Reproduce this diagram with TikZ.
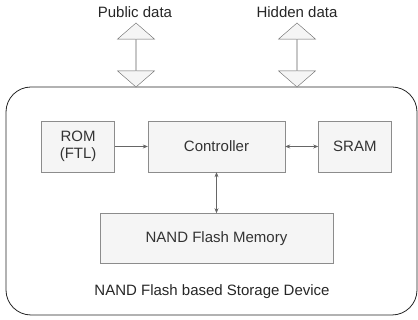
\documentclass[tikz,border=0pt]{standalone}
\usepackage{fontspec}
\setmainfont{Liberation Sans}
\usetikzlibrary{positioning}
\usetikzlibrary{arrows.meta, shapes.arrows}

\definecolor{boxfill}{HTML}{F5F5F5}
\definecolor{boxline}{HTML}{8C8C8C}
\definecolor{txtgray}{HTML}{333333}
\definecolor{conn}{HTML}{666666}

\begin{document}
\begin{tikzpicture}[x=1pt, y=-1pt, font=\fontsize{15}{17}\selectfont,
	block/.style={draw=boxline, fill=boxfill, rectangle, text=txtgray, align=center, inner sep=0pt, minimum height=51pt},
	io/.style={draw=conn, fill=boxfill, double arrow, rotate=90, inner sep=0pt, minimum height=64pt, minimum width=37pt, double arrow head extend=7.5pt, double arrow tip angle=98},
	link/.style={draw=conn, line width=0.6pt}]
		\useasboundingbox (0, 0) rectangle (418, 320);

		% Device
		\begin{scope}
			\node (device) at (211.5, 201) [draw=black!85, line width=0.8pt, rectangle, rounded corners=25pt, minimum width=411pt, minimum height=228pt] {};
			\node (device_title) at (212, 292) [text=black!85] {NAND Flash based Storage Device};
		\end{scope}

		% Host side
		\begin{scope}
			\node (pub) at (136, 55) [io] {};
			\node (pub_title) at (135, 12) [text=black!85] {Public data};
			\node (hid) at (297, 55) [io] {};
			\node (hid_title) at (297, 12) [text=black!85] {Hidden data};
		\end{scope}

		% Blocks
		\begin{scope}
			\node (ctrl) at (216.5, 146.5) [block, minimum width=137pt] {Controller};
			\node (rom) [block, minimum width=73pt, left = 33pt of ctrl] {ROM\\(FTL)};
			\node (sram) [block, minimum width=73pt, right = 33pt of ctrl] {SRAM};
			\node (nand) [block, minimum width=233pt, minimum height=50pt, below = 41pt of ctrl] {NAND Flash Memory};
		\end{scope}

		\draw [link, -{Stealth[length=5pt, width=4pt]}] (rom) -- (ctrl);
		\draw [link, {Stealth[length=5pt, width=4pt]}-{Stealth[length=5pt, width=4pt]}] (ctrl) -- (sram);
		\draw [link, {Stealth[length=5pt, width=4pt]}-{Stealth[length=5pt, width=4pt]}] (ctrl) -- (nand);

	\end{tikzpicture}
\end{document}
